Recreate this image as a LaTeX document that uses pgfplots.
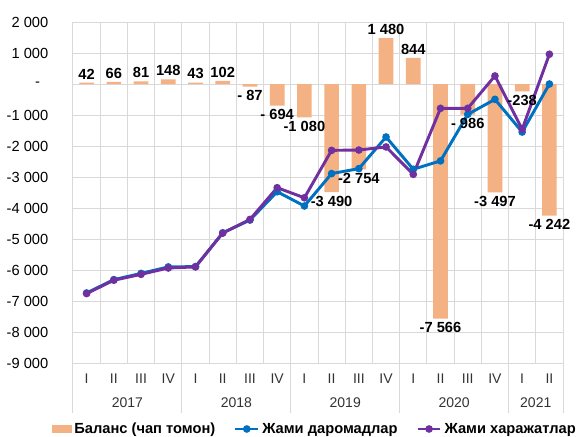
\documentclass[border=0pt]{standalone}
\usepackage{fontspec}
\setmainfont{Liberation Sans}
\usepackage{pgfplots}
\usepackage{pgfplotstable}
\pgfplotsset{compat=1.18}
\definecolor{barc}{HTML}{F4B183}
\definecolor{revc}{HTML}{0070C0}
\definecolor{expc}{HTML}{7030A0}
\definecolor{gridc}{HTML}{D9D9D9}

\pgfplotstableread[col sep=comma]{
x,bal,lbl,rev,exp
0,42,42,-6740,-6760
1,66,66,-6310,-6330
2,81,81,-6110,-6140
3,148,148,-5900,-5935
4,43,43,-5890,-5900
5,102,102,-4800,-4810
6,-87,- 87,-4390,-4370
7,-694,- 694,-3475,-3345
8,-1080,-1 080,-3935,-3670
9,-3490,-3 490,-2890,-2140
10,-2754,-2 754,-2730,-2130
11,1480,1 480,-1710,-2030
12,844,844,-2750,-2915
13,-7566,-7 566,-2480,-785
14,-986,- 986,-980,-785
15,-3497,-3 497,-495,260
16,-238,-238,-1550,-1460
17,-4242,-4 242,0,960
}\datatab

\begin{document}
\begin{tikzpicture}
\useasboundingbox (-54.75pt,-54.75pt) rectangle (378pt,272.25pt);
\begin{axis}[
  scale only axis,
  width=367.5pt, height=255.75pt,
  at={(0pt,0pt)}, anchor=south west,
  xmin=-0.5, xmax=17.5,
  ymin=-9000, ymax=2000,
  axis line style={draw=none},
  ytick={-9000,-8000,...,2000},
  yticklabels={-9 000,-8 000,-7 000,-6 000,-5 000,-4 000,-3 000,-2 000,-1 000,-\hphantom{0},1 000,2 000},
  yticklabel style={font=\fontsize{11}{13}\selectfont, xshift=-15pt},
  xtick={0,...,17},
  xticklabels={I,II,III,IV,I,II,III,IV,I,II,III,IV,I,II,III,IV,I,II},
  xticklabel style={font=\fontsize{10.5}{12}\selectfont, yshift=-4.5pt, text=black!80},
  minor xtick={-0.5,0.5,...,17.5},
  major tick length=0pt, minor tick length=0pt,
  ymajorgrids, xminorgrids,
  grid style={draw=gridc, line width=0.75pt},
  minor grid style={draw=gridc, line width=0.75pt},
  legend style={at={(0.494,-0.1935)}, anchor=center, draw=none, fill=none,
    legend columns=3, font=\bfseries\fontsize{11}{13}\selectfont,
    /tikz/every even column/.append style={column sep=12pt},
    cells={anchor=west}},
  clip=false,
  lbl/.style={ybar, bar width=11pt, bar shift=0pt, draw=none, fill=none, forget plot,
    point meta=explicit symbolic, nodes near coords,
    every node near coord/.append style={font=\bfseries\fontsize{11}{13}\selectfont, text=black, inner sep=2.5pt}},
]
\addplot[ybar, bar width=11pt, bar shift=0pt, draw=none, fill=barc,
  legend image code/.code={\fill[barc] (0pt,-3pt) rectangle (15pt,3pt);}]
  table[x=x, y=bal] {\datatab};
\addlegendentry{Баланс (чап томон)}
\addplot[color=revc, line width=2.2pt, mark=*, mark size=1.7pt]
  table[x=x, y=rev] {\datatab};
\addlegendentry{Жами даромадлар}
\addplot[color=expc, line width=2.2pt, mark=*, mark size=1.7pt]
  table[x=x, y=exp] {\datatab};
\addlegendentry{Жами харажатлар}
\addplot[lbl, restrict y to domain=0:5000, nodes near coords align={above}]
  table[x=x, y=bal, meta=lbl] {\datatab};
\addplot[lbl, restrict y to domain=-9000:-1, nodes near coords align={below}]
  table[x=x, y=bal, meta=lbl] {\datatab};
% year separators and labels
\draw[gridc, line width=0.75pt] (axis cs:-0.5,-9000) -- ++(0pt,-37.5pt);
\draw[gridc, line width=0.75pt] (axis cs:3.5,-9000) -- ++(0pt,-37.5pt);
\draw[gridc, line width=0.75pt] (axis cs:7.5,-9000) -- ++(0pt,-37.5pt);
\draw[gridc, line width=0.75pt] (axis cs:11.5,-9000) -- ++(0pt,-37.5pt);
\draw[gridc, line width=0.75pt] (axis cs:15.5,-9000) -- ++(0pt,-37.5pt);
\draw[gridc, line width=0.75pt] (axis cs:17.5,-9000) -- ++(0pt,-37.5pt);
\node[font=\fontsize{10.5}{12}\selectfont, text=black!80] at ([yshift=-30pt]axis cs:1.5,-9000) {2017};
\node[font=\fontsize{10.5}{12}\selectfont, text=black!80] at ([yshift=-30pt]axis cs:5.5,-9000) {2018};
\node[font=\fontsize{10.5}{12}\selectfont, text=black!80] at ([yshift=-30pt]axis cs:9.5,-9000) {2019};
\node[font=\fontsize{10.5}{12}\selectfont, text=black!80] at ([yshift=-30pt]axis cs:13.5,-9000) {2020};
\node[font=\fontsize{10.5}{12}\selectfont, text=black!80] at ([yshift=-30pt]axis cs:16.5,-9000) {2021};
\end{axis}
\end{tikzpicture}
\end{document}
